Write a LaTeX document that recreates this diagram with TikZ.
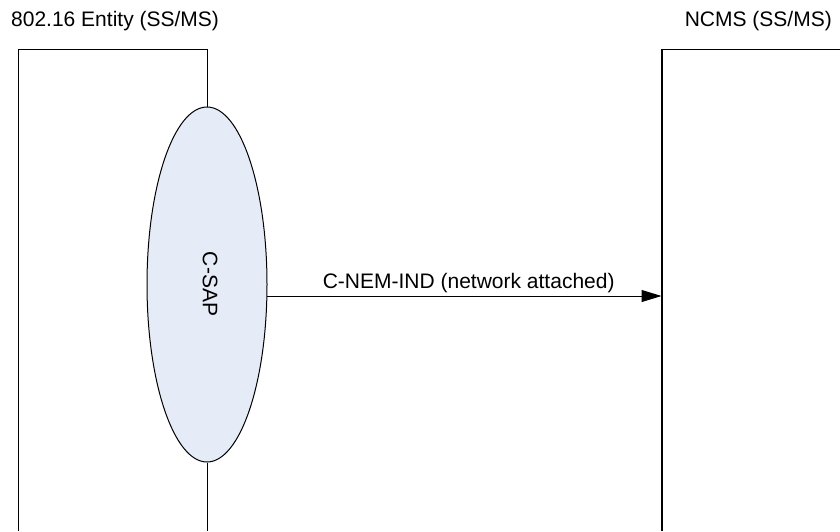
\documentclass[tikz,border=0pt]{standalone}
\usepackage{fontspec}
\setmainfont{Liberation Sans}
\usetikzlibrary{arrows.meta,shapes.geometric}
\definecolor{sapfill}{RGB}{230,236,247}
\tikzset{
  lbl/.style={inner sep=0pt, font=\fontsize{21}{25}\selectfont},
  boxline/.style={draw=black, line width=1pt},
  sap/.style={ellipse, draw=black, line width=1pt, fill=sapfill, minimum width=120pt, minimum height=355pt, inner sep=0pt},
  msg/.style={draw=black, line width=1pt, -{Triangle[length=20pt,width=12pt]}}
}
\begin{document}
\begin{tikzpicture}[x=1pt,y=-1pt]
\useasboundingbox (0,0) rectangle (840,531);
% titles
\node[lbl, anchor=base west] (t1) at (11,26.7) {802.16 Entity (SS/MS)};
\node[lbl, anchor=base east] (t2) at (832,26.7) {NCMS (SS/MS)};
% C-SAP ellipse
\node[sap] (csap) at (207,284.5) {};
\node[lbl, rotate=-90] (csaplbl) at (210,284) {C-SAP};
% left entity box (open at the bottom)
\coordinate (lbl1) at (18,531);
\coordinate (ltl) at (18,49);
\coordinate (ltr) at (207,49);
\coordinate (lbr) at (207,531);
\draw[boxline] (lbl1) -- (ltl) -- (ltr) -- (csap.north);
\draw[boxline] (csap.south) -- (lbr);
% right NCMS box (open at the bottom and right)
\coordinate (rbl) at (662,531);
\coordinate (rtl) at (662,49);
\coordinate (rtr) at (845,49);
\draw[draw=black, line width=1.6pt] (rbl) -- (rtl);
\draw[boxline] (rtl) -- (rtr);
% message
\coordinate (msgstart) at (266.9,296);
\coordinate (msgend) at (661.5,296);
\draw[msg] (msgstart) -- (msgend);
\node[lbl, anchor=base] (msglbl) at (468.7,288) {C-NEM-IND (network attached)};
\end{tikzpicture}
\end{document}
